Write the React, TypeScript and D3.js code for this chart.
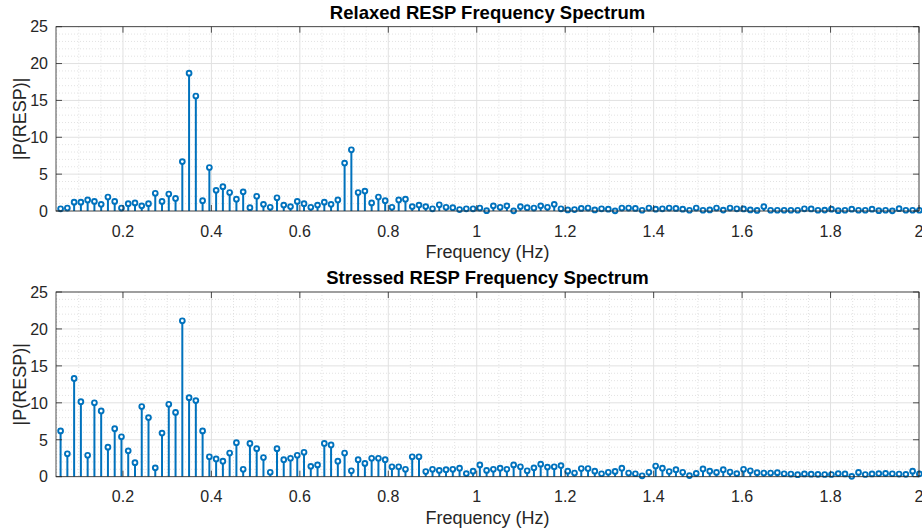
import React from "react";
import * as d3 from "d3";

// ---- data ----
const FREQ_START = 0.059; // Hz, first FFT bin shown
const FREQ_STEP = 0.01529; // Hz, bin spacing

const RELAXED: number[] = [
  0.3, 0.4, 1.2, 1.2, 1.5, 1.3, 0.9, 1.9, 1.3, 0.4,
  1.0, 1.1, 0.7, 1.0, 2.4, 1.3, 2.3, 1.7, 6.7, 18.7,
  15.6, 1.4, 5.9, 2.8, 3.3, 2.5, 1.6, 2.6, 0.45, 2.0,
  0.9, 0.5, 1.8, 0.8, 0.6, 1.3, 1.0, 0.5, 0.8, 1.2,
  0.9, 1.5, 6.5, 8.3, 2.5, 2.7, 1.1, 1.9, 1.4, 0.5,
  1.5, 1.6, 0.6, 0.8, 0.6, 0.3, 0.85, 0.5, 0.45, 0.2,
  0.3, 0.3, 0.4, 0.05, 0.7, 0.5, 0.7, 0.02, 0.6, 0.45,
  0.4, 0.7, 0.5, 0.9, 0.3, 0.15, 0.2, 0.35, 0.4, 0.15,
  0.3, 0.25, 0.02, 0.4, 0.4, 0.35, 0.1, 0.4, 0.25, 0.3,
  0.4, 0.35, 0.25, 0.1, 0.4, 0.1, 0.15, 0.4, 0.12, 0.4,
  0.3, 0.28, 0.15, 0.08, 0.6, 0.1, 0.1, 0.1, 0.1, 0.1,
  0.3, 0.28, 0.1, 0.12, 0.25, 0.05, 0.1, 0.25, 0.1, 0.1,
  0.25, 0.05, 0.1, 0.02, 0.32, 0.1, 0.1, 0.1,
];

const STRESSED: number[] = [
  6.2, 3.1, 13.3, 10.15, 2.9, 10.0, 8.9, 4.0, 6.5, 5.4,
  3.5, 1.9, 9.5, 8.0, 1.2, 5.9, 9.8, 8.7, 21.1, 10.7,
  10.3, 6.2, 2.7, 2.4, 2.1, 3.2, 4.6, 1.0, 4.5, 3.8,
  2.6, 0.6, 3.8, 2.3, 2.5, 2.9, 3.3, 1.4, 1.6, 4.5,
  4.3, 2.1, 3.2, 0.8, 2.3, 1.8, 2.5, 2.5, 2.3, 1.35,
  1.35, 1.0, 2.7, 2.7, 0.7, 1.0, 0.85, 0.95, 1.0, 1.15,
  0.42, 0.75, 1.6, 0.85, 1.0, 1.15, 1.0, 1.6, 1.35, 0.8,
  1.2, 1.7, 1.3, 1.35, 1.5, 0.75, 0.5, 1.1, 1.1, 0.75,
  0.4, 0.6, 0.72, 1.15, 0.5, 0.4, 0.12, 0.6, 1.45, 1.15,
  0.7, 0.95, 0.6, 0.15, 0.45, 1.05, 0.75, 0.58, 0.95, 0.63,
  0.42, 1.0, 0.8, 0.55, 0.5, 0.5, 0.55, 0.4, 0.36, 0.27,
  0.38, 0.34, 0.32, 0.3, 0.3, 0.42, 0.38, 0.05, 0.58, 0.3,
  0.38, 0.42, 0.45, 0.4, 0.36, 0.32, 0.75, 0.38,
];

const X_TICKS = [0.2, 0.4, 0.6, 0.8, 1.0, 1.2, 1.4, 1.6, 1.8, 2.0];
const Y_TICKS = [0, 5, 10, 15, 20, 25];
const X_DOMAIN: [number, number] = [0.0486, 2.0];
const Y_DOMAIN: [number, number] = [0, 25];

const TITLES = ["Relaxed RESP Frequency Spectrum", "Stressed RESP Frequency Spectrum"];
const X_LABEL = "Frequency (Hz)";
const Y_LABEL = "|P(RESP)|";

// ---- layout ----
const W = 922;
const H = 531;
const LEFT = 56;
const RIGHT = 919;
const PANELS = [
  { top: 26.7, bottom: 211 },
  { top: 292, bottom: 476.7 },
];
const FONT = "'Liberation Sans', Arial, Helvetica, sans-serif";
const STEM = "#0072BD";

function Panel({ data, title, top, bottom }: { data: number[]; title: string; top: number; bottom: number }) {
  const x = d3.scaleLinear().domain(X_DOMAIN).range([LEFT, RIGHT]);
  const y = d3.scaleLinear().domain(Y_DOMAIN).range([bottom, top]);
  const minorX = d3.range(0.05, 2.0001, 0.05).filter((v) => !X_TICKS.some((t) => Math.abs(t - v) < 1e-6));
  const minorY = d3.range(1, 25, 1).filter((v) => v % 5 !== 0);
  const tickLen = 6;
  const freqs = data.map((_, i) => FREQ_START + i * FREQ_STEP);
  const fmt = (v: number) => String(+v.toFixed(1));
  return (
    <g>
      <rect x={LEFT} y={top} width={RIGHT - LEFT} height={bottom - top} fill="#fff" />
      {/* minor grid */}
      {minorX.map((v) => (
        <line key={"mx" + v} x1={x(v)} x2={x(v)} y1={top} y2={bottom} stroke="#d6d6d6" strokeWidth={0.7} strokeDasharray="1,2" />
      ))}
      {minorY.map((v) => (
        <line key={"my" + v} x1={LEFT} x2={RIGHT} y1={y(v)} y2={y(v)} stroke="#d6d6d6" strokeWidth={0.7} strokeDasharray="1,2" />
      ))}
      {/* major grid */}
      {X_TICKS.map((v) => (
        <line key={"gx" + v} x1={x(v)} x2={x(v)} y1={top} y2={bottom} stroke="#e1e1e1" strokeWidth={1} />
      ))}
      {Y_TICKS.map((v) => (
        <line key={"gy" + v} x1={LEFT} x2={RIGHT} y1={y(v)} y2={y(v)} stroke="#e1e1e1" strokeWidth={1} />
      ))}
      {/* stems */}
      {data.map((v, i) => (
        <line key={"s" + i} x1={x(freqs[i])} x2={x(freqs[i])} y1={y(0)} y2={y(v)} stroke={STEM} strokeWidth={2} />
      ))}
      {data.map((v, i) => (
        <circle key={"c" + i} cx={x(freqs[i])} cy={y(v)} r={2.4} fill="#fff" stroke={STEM} strokeWidth={1.9} />
      ))}
      {/* box */}
      <rect x={LEFT} y={top} width={RIGHT - LEFT} height={bottom - top} fill="none" stroke="#262626" strokeWidth={0.8} />
      {/* ticks */}
      {X_TICKS.map((v) => (
        <g key={"tx" + v}>
          <line x1={x(v)} x2={x(v)} y1={bottom} y2={bottom - tickLen} stroke="#262626" strokeWidth={0.8} />
          <line x1={x(v)} x2={x(v)} y1={top} y2={top + tickLen} stroke="#262626" strokeWidth={0.8} />
          <text x={x(v)} y={bottom + 25.5} textAnchor="middle" fontSize={16} fill="#262626" fontFamily={FONT}>
            {fmt(v)}
          </text>
        </g>
      ))}
      {Y_TICKS.map((v) => (
        <g key={"ty" + v}>
          <line x1={LEFT} x2={LEFT + tickLen} y1={y(v)} y2={y(v)} stroke="#262626" strokeWidth={0.8} />
          <line x1={RIGHT} x2={RIGHT - tickLen} y1={y(v)} y2={y(v)} stroke="#262626" strokeWidth={0.8} />
          <text x={48} y={y(v)} dy="0.36em" textAnchor="end" fontSize={16} fill="#262626" fontFamily={FONT}>
            {v}
          </text>
        </g>
      ))}
      {/* labels */}
      <text x={(LEFT + RIGHT) / 2} y={top - 8} textAnchor="middle" fontSize={18.5} fontWeight="bold" fill="#000" fontFamily={FONT}>
        {title}
      </text>
      <text x={(LEFT + RIGHT) / 2} y={bottom + 47} textAnchor="middle" fontSize={18} fill="#262626" fontFamily={FONT}>
        {X_LABEL}
      </text>
      <text
        transform={`translate(26,${(top + bottom) / 2}) rotate(-90)`}
        textAnchor="middle"
        fontSize={18}
        fill="#262626"
        fontFamily={FONT}
      >
        {Y_LABEL}
      </text>
    </g>
  );
}

export default function App() {
  return (
    <svg width={W} height={H} style={{ position: "absolute", left: 0, top: 0, background: "#fff" }}>
      <rect width={W} height={H} fill="#fff" />
      <Panel data={RELAXED} title={TITLES[0]} top={PANELS[0].top} bottom={PANELS[0].bottom} />
      <Panel data={STRESSED} title={TITLES[1]} top={PANELS[1].top} bottom={PANELS[1].bottom} />
    </svg>
  );
}
